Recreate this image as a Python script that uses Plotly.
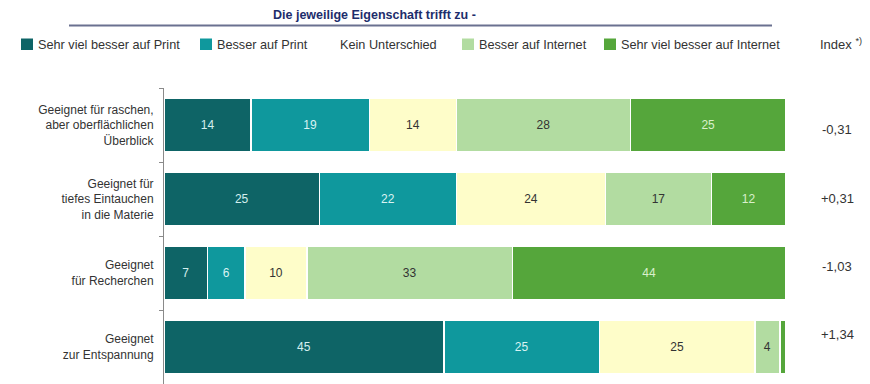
import plotly.graph_objects as go

# Survey items (top to bottom) and the index shown on the right
items = [
    "Geeignet für raschen,<br>aber oberflächlichen<br>Überblick",
    "Geeignet für<br>tiefes Eintauchen<br>in die Materie",
    "Geeignet<br>für Recherchen",
    "Geeignet<br>zur Entspannung",
]
index_labels = ["-0,31", "+0,31", "-1,03", "+1,34"]

# Answer categories (percent per item)
series_names = [
    "Sehr viel besser auf Print",
    "Besser auf Print",
    "Kein Unterschied",
    "Besser auf Internet",
    "Sehr viel besser auf Internet",
]
sehr_print = [14, 25, 7, 45]
besser_print = [19, 22, 6, 25]
kein_unterschied = [14, 24, 10, 25]
besser_internet = [28, 17, 33, 4]
sehr_internet = [25, 12, 44, 1]
series_values = [sehr_print, besser_print, kein_unterschied, besser_internet, sehr_internet]

colors = ["#0e6466", "#0f989d", "#fefdc9", "#b2dca1", "#55a63b"]
text_colors = ["#d4efef", "#d9f3f3", "#333333", "#333333", "#d9f0cc"]

W, H = 870, 384
L, R, T, B = 164, 84, 88, 0
PW, PH = W - L - R, H - T - B


def px_x(x):
    return (x - L) / PW


def px_y(y):
    return 1 - (y - T) / PH


FONT = "Liberation Sans, Arial, sans-serif"

fig = go.Figure()
for name, vals, col, tcol in zip(series_names, series_values, colors, text_colors):
    # segments too narrow for a number stay unlabelled
    positions = ["inside" if v >= 2 else "none" for v in vals]
    fig.add_trace(go.Bar(
        y=items, x=vals, name=name, orientation="h",
        marker=dict(color=col, line=dict(color="white", width=1.5)),
        text=[str(v) for v in vals], textposition=positions,
        insidetextanchor="middle",
        textfont=dict(family=FONT, size=12, color=tcol),
        showlegend=False, hoverinfo="x+name",
    ))

shapes = []
annotations = []

# Title and rule beneath it
annotations.append(dict(
    text="<b>Die jeweilige Eigenschaft trifft zu -</b>", xref="paper", yref="paper",
    x=px_x(374), y=px_y(15), xanchor="center", yanchor="middle", showarrow=False,
    font=dict(family=FONT, size=12.5, color="#1d2d6c"),
))
shapes.append(dict(type="line", xref="paper", yref="paper",
                   x0=px_x(69), x1=px_x(772), y0=px_y(25.5), y1=px_y(25.5),
                   line=dict(color="#6a7190", width=2)))

# Legend row
key_x = [21, 200, 323, 462, 604]
for i, (name, col) in enumerate(zip(series_names, colors)):
    if i != 2:  # the neutral category has no visible key
        shapes.append(dict(type="rect", xref="paper", yref="paper",
                           x0=px_x(key_x[i]), x1=px_x(key_x[i] + 12),
                           y0=px_y(50), y1=px_y(38.5),
                           fillcolor=col, line=dict(width=0)))
    annotations.append(dict(
        text=name, xref="paper", yref="paper",
        x=px_x(key_x[i] + 15), y=px_y(44.5), xanchor="left", yanchor="middle",
        showarrow=False, font=dict(family=FONT, size=12.7, color="#333333"),
    ))

annotations.append(dict(
    text="Index <sup>*)</sup>", xref="paper", yref="paper",
    x=px_x(818), y=px_y(44), xanchor="left", yanchor="middle",
    showarrow=False, font=dict(family=FONT, size=13, color="#333333"),
))

# Index values next to each bar
index_y = [129, 198, 266, 334]
for lab, yy in zip(index_labels, index_y):
    annotations.append(dict(
        text=lab, xref="paper", yref="paper",
        x=px_x(837), y=px_y(yy), xanchor="center", yanchor="middle",
        showarrow=False, font=dict(family=FONT, size=13, color="#333333"),
    ))

fig.update_layout(
    barmode="stack", bargap=0.27,
    width=W, height=H,
    margin=dict(l=L, r=R, t=T, b=B, pad=0),
    paper_bgcolor="white", plot_bgcolor="white",
    font=dict(family=FONT, size=12, color="#333333"),
    xaxis=dict(range=[0, 100], visible=False, fixedrange=True),
    yaxis=dict(
        autorange="reversed", showline=True, linecolor="#8a8a8a", linewidth=1,
        ticks="outside", ticklen=4, tickcolor="#8a8a8a", tickson="boundaries",
        showgrid=False, tickfont=dict(family=FONT, size=12, color="#333333"),
        ticklabelstandoff=7,
    ),
    shapes=shapes, annotations=annotations,
)

fig.write_html("out.html")
